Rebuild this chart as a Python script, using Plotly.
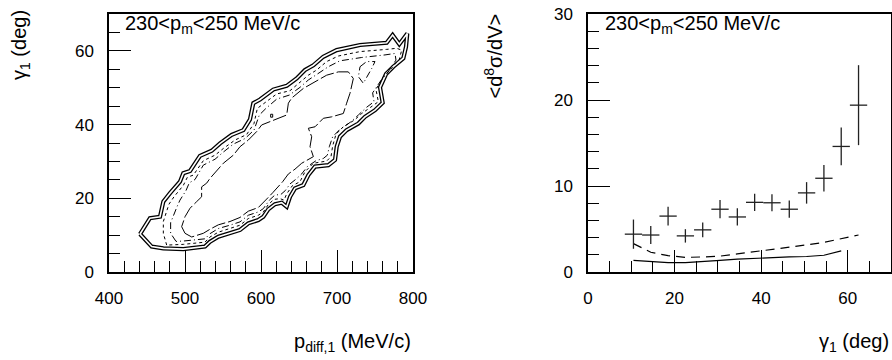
import plotly.graph_objects as go

# ---------------- left panel: contour lines (p_diff,1 [MeV/c], gamma_1 [deg]) -------------
outer_p = [440.8, 453.9, 467.1, 471.5, 480.3, 493.4, 497.8, 506.6, 519.7, 535.1, 546.1, 561.4, 576.8,
           585.5, 589.9, 598.7, 616.2, 633.8, 646.9, 657.9, 668.9, 682.0, 699.6, 730.3, 765.4, 773.2,
           782.0, 792.5, 790.8, 787.3, 774.1, 764.5, 756.6, 760.1, 750.0, 736.8, 728.1, 712.7, 703.9,
           699.6, 697.4, 688.6, 671.1, 662.3, 655.7, 644.7, 638.2, 633.8, 627.2, 618.4, 609.6, 603.1,
           596.5, 583.3, 572.4, 559.2, 543.9, 532.9, 526.3, 497.8, 471.5, 456.1, 440.8]
outer_g = [10.3, 14.6, 15.0, 19.1, 21.4, 24.5, 26.8, 27.4, 31.5, 32.9, 34.9, 37.2, 38.5,
           41.4, 45.8, 46.8, 49.5, 50.5, 52.5, 54.8, 56.1, 58.4, 60.2, 61.6, 62.2, 64.3,
           61.8, 64.7, 61.1, 58.0, 55.7, 53.7, 50.1, 45.9, 43.9, 42.1, 40.3, 38.5, 36.7,
           34.0, 30.4, 29.0, 28.6, 26.3, 23.6, 22.7, 20.4, 17.7, 18.8, 18.4, 17.0, 15.0,
           14.1, 13.2, 11.4, 10.5, 9.6, 8.2, 6.9, 6.2, 6.4, 6.9, 10.3]

mid_p = [475.9, 471.5, 471.5, 475.9, 478.9, 485.5, 497.8, 503.1, 511.0, 524.1, 539.5, 550.4, 565.8,
         581.1, 590.8, 595.2, 603.1, 620.6, 638.2, 651.3, 662.3, 673.2, 686.4, 701.8, 730.3, 765.4,
         778.5, 785.1, 782.0, 769.7, 760.1, 751.3, 754.4, 744.3, 732.5, 722.8, 708.3, 698.7, 694.3,
         692.1, 686.4, 668.9, 657.9, 651.3, 641.2, 633.8, 630.3, 625.0, 617.1, 609.6, 603.1, 596.5,
         583.3, 572.4, 559.2, 543.9, 532.9, 526.3, 497.8, 475.9]
mid_g = [7.3, 10.5, 13.7, 16.4, 18.4, 20.4, 23.5, 25.7, 26.3, 30.2, 31.7, 33.5, 35.8,
         37.3, 40.3, 44.4, 45.6, 48.3, 49.2, 51.4, 53.4, 54.8, 57.1, 58.6, 59.8, 60.4,
         60.7, 60.2, 57.7, 54.8, 52.8, 49.5, 46.2, 44.7, 43.0, 41.2, 39.4, 37.4, 34.2,
         31.3, 30.1, 29.5, 27.2, 24.5, 23.4, 21.2, 19.5, 19.9, 19.7, 18.3, 16.3, 15.4,
         14.5, 12.7, 11.8, 10.8, 9.5, 8.1, 7.5, 7.3]

inner_p = [488.2, 481.1, 481.1, 485.5, 489.9, 493.4, 501.3, 505.7, 513.2, 524.1, 539.5, 549.6, 563.6,
           578.9, 590.8, 597.8, 606.6, 620.6, 637.3, 651.3, 662.3, 674.1, 688.6, 703.9, 732.5, 763.2,
           776.3, 777.6, 765.4, 756.6, 746.9, 748.7, 739.0, 728.1, 718.0, 703.9, 694.3, 689.9, 687.3,
           682.0, 672.4, 661.0, 653.5, 646.1, 638.2, 632.0, 625.9, 618.4, 611.0, 603.1, 596.5, 583.3,
           572.4, 559.2, 543.9, 532.9, 526.3, 497.8, 488.2]
inner_g = [8.3, 10.5, 13.4, 15.9, 17.9, 19.5, 22.1, 24.2, 25.1, 29.0, 30.6, 32.4, 34.7,
           36.2, 38.5, 42.6, 44.4, 46.9, 48.0, 50.1, 52.1, 53.7, 55.7, 57.3, 58.2, 58.9,
           59.3, 57.5, 53.7, 51.6, 48.6, 46.2, 44.7, 42.6, 40.7, 38.7, 36.7, 34.0, 31.7,
           30.8, 30.2, 28.6, 26.6, 25.2, 23.9, 22.1, 21.0, 20.9, 19.5, 17.2, 16.3, 15.4,
           13.6, 12.7, 11.8, 10.4, 9.0, 8.4, 8.3]

core_p = [500.0, 495.6, 500.0, 506.6, 515.4, 521.9, 521.9, 528.5, 532.9, 550.4, 563.6, 572.4, 583.3,
          594.3, 600.9, 611.8, 622.8, 633.8, 636.0, 640.4, 655.7, 675.4, 686.4, 701.8, 714.9, 721.5,
          717.1, 712.7, 708.3, 693.0, 682.0, 671.1, 662.3, 666.7, 664.5, 668.9, 653.5, 644.7, 636.0,
          628.5, 622.8, 615.4, 607.5, 596.5, 583.3, 572.4, 559.2, 543.9, 532.9, 524.1, 508.8, 500.0]
core_g = [10.5, 12.3, 15.0, 17.3, 19.1, 20.4, 23.1, 24.1, 25.4, 29.5, 31.7, 34.0, 35.8,
          38.1, 39.9, 40.8, 41.7, 42.6, 45.8, 47.2, 49.8, 52.1, 53.4, 54.3, 54.3, 52.5,
          48.5, 45.8, 43.0, 42.1, 41.7, 39.4, 39.0, 36.7, 34.0, 31.3, 29.5, 27.9, 26.6,
          24.5, 23.1, 21.5, 19.8, 17.5, 16.5, 14.8, 13.7, 12.8, 11.6, 10.5, 9.5, 10.5]

island_p = [730.3, 739.0, 750.0, 745.6, 734.6, 728.1, 730.3]
island_g = [55.7, 57.1, 57.1, 55.2, 51.2, 53.0, 55.7]

dot_p = [612.7, 615.4, 615.4, 612.7, 612.7]
dot_g = [42.8, 42.8, 42.0, 42.0, 42.8]

# ---------------- right panel: <d8sigma/dV> vs gamma_1 ----------------
gamma_bins = [10.5, 14.5, 18.5, 22.5, 26.5, 30.5, 34.5, 38.5, 42.5, 46.5, 50.5, 54.5, 58.5, 62.5]
xsec = [4.4, 4.3, 6.5, 4.2, 4.9, 7.3, 6.4, 8.1, 8.05, 7.3, 9.2, 10.9, 14.6, 19.4]
xsec_err = [1.7, 1.05, 1.1, 0.78, 0.87, 1.06, 1.0, 1.0, 1.0, 1.0, 1.25, 1.55, 2.2, 4.65]
bin_half_width = 2.0
model_dashed = [3.3, 2.3, 1.9, 1.7, 1.75, 1.85, 2.1, 2.35, 2.6, 2.9, 3.15, 3.45, 3.9, 4.3]
model_solid = [1.35, 1.2, 1.1, 1.1, 1.2, 1.35, 1.5, 1.6, 1.7, 1.75, 1.8, 1.95, 2.45]

label_text = "230&lt;p<sub>m</sub>&lt;250 MeV/c"

FONT = "Liberation Sans, Arial, sans-serif"
W, H = 892, 360

fig = go.Figure()

# outer double line: thick black with thin white core
fig.add_trace(go.Scatter(x=outer_p, y=outer_g, mode="lines", xaxis="x", yaxis="y",
                         line=dict(color="black", width=4.2), hoverinfo="skip"))
fig.add_trace(go.Scatter(x=outer_p, y=outer_g, mode="lines", xaxis="x", yaxis="y",
                         line=dict(color="white", width=1.6), hoverinfo="skip"))
fig.add_trace(go.Scatter(x=mid_p, y=mid_g, mode="lines", xaxis="x", yaxis="y",
                         line=dict(color="black", width=1, dash="3px,3px"), hoverinfo="skip"))
fig.add_trace(go.Scatter(x=inner_p, y=inner_g, mode="lines", xaxis="x", yaxis="y",
                         line=dict(color="black", width=1, dash="7px,3px,1px,3px"), hoverinfo="skip"))
fig.add_trace(go.Scatter(x=island_p, y=island_g, mode="lines", xaxis="x", yaxis="y",
                         line=dict(color="black", width=1, dash="7px,3px,1px,3px"), hoverinfo="skip"))
fig.add_trace(go.Scatter(x=core_p, y=core_g, mode="lines", xaxis="x", yaxis="y",
                         line=dict(color="black", width=1, dash="14px,3px"), hoverinfo="skip"))
fig.add_trace(go.Scatter(x=dot_p, y=dot_g, mode="lines", xaxis="x", yaxis="y",
                         line=dict(color="black", width=1), hoverinfo="skip"))

# right panel
fig.add_trace(go.Scatter(x=gamma_bins, y=model_dashed, mode="lines", xaxis="x2", yaxis="y2",
                         line=dict(color="black", width=1.2, dash="9px,6px"), hoverinfo="skip"))
fig.add_trace(go.Scatter(x=gamma_bins[:len(model_solid)], y=model_solid, mode="lines",
                         xaxis="x2", yaxis="y2",
                         line=dict(color="black", width=1.2), hoverinfo="skip"))
fig.add_trace(go.Scatter(x=gamma_bins, y=xsec, mode="markers", xaxis="x2", yaxis="y2",
                         marker=dict(size=1, color="rgba(0,0,0,0)"),
                         error_x=dict(type="constant", value=bin_half_width, width=0,
                                      thickness=1.3, color="#222"),
                         error_y=dict(type="data", array=xsec_err, width=0,
                                      thickness=1.3, color="#222"),
                         hoverinfo="skip"))

ydom = [1 - 272 / H, 1 - 14 / H]

def axis(domain, rng, dtick, minor_dtick, anchor):
    return dict(domain=domain, range=rng, anchor=anchor, dtick=dtick, tick0=0,
                showline=True, linecolor="black", linewidth=1.5, mirror=True,
                ticks="inside", ticklen=22, tickwidth=1, tickcolor="black",
                minor=dict(dtick=minor_dtick, ticks="inside", ticklen=11, tickwidth=1,
                           tickcolor="black", showgrid=False),
                showgrid=False, zeroline=False, automargin=False,
                tickfont=dict(family=FONT, size=17, color="black"),
                ticklabelstandoff=10, fixedrange=True)

fig.update_layout(
    width=W, height=H, margin=dict(l=0, r=0, t=0, b=0, pad=0, autoexpand=False),
    paper_bgcolor="white", plot_bgcolor="white", showlegend=False,
    xaxis=axis([109 / W, 413 / W], [400, 800], 100, 20, "y"),
    yaxis=axis(ydom, [0, 70], 20, 5, "x"),
    xaxis2=axis([588 / W, 891 / W], [0, 70], 20, 5, "y2"),
    yaxis2=axis(ydom, [0, 30], 10, 2, "x2"),
)

ann_font = dict(family=FONT, size=20, color="black")
annotations = [
    dict(text=label_text, x=123 / W, y=1 - 25 / H, xanchor="left", yanchor="middle"),
    dict(text=label_text, x=603 / W, y=1 - 25 / H, xanchor="left", yanchor="middle"),
    dict(text="p<sub>diff,1</sub> (MeV/c)", x=413 / W, y=1 - 342 / H, xanchor="right", yanchor="middle"),
    dict(text="γ<sub>1</sub> (deg)", x=891 / W, y=1 - 342 / H, xanchor="right", yanchor="middle"),
    dict(text="γ<sub>1</sub> (deg)", x=20 / W, y=1 - 8 / H, xanchor="center", yanchor="top", textangle=-90),
    dict(text="&lt;d<sup>8</sup>σ/dV&gt;", x=493 / W, y=1 - 12 / H, xanchor="center", yanchor="top", textangle=-90),
]
for a in annotations:
    a.update(xref="paper", yref="paper", showarrow=False, font=ann_font)
fig.update_layout(annotations=annotations)

fig.write_html("out.html")
